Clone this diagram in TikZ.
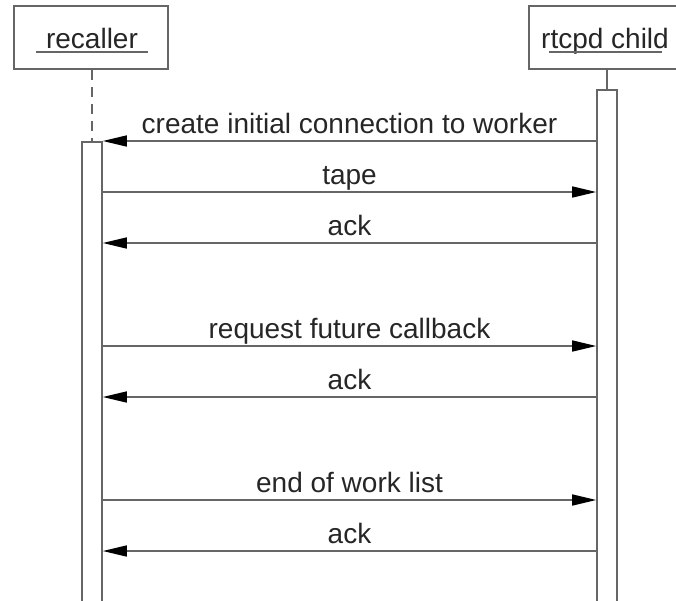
\documentclass[tikz,border=0pt]{standalone}
\usepackage{fontspec}
\setmainfont{Liberation Sans}
\usetikzlibrary{arrows.meta}
\definecolor{linegray}{gray}{0.4}
\begin{document}
\begin{tikzpicture}[x=1pt,y=-1pt,
  objbox/.style={draw=linegray,line width=1.6pt,fill=white,inner sep=0pt},
  actbar/.style={draw=linegray,line width=1.6pt,fill=white,anchor=north},
  msg/.style={draw=linegray,line width=1.6pt,-{Triangle[length=24pt,width=11pt,fill=black,color=black]}},
  lbl/.style={font=\fontsize{28}{32}\selectfont,text={black!85},inner sep=0pt},
  life/.style={draw=linegray,line width=1.8pt}]
\useasboundingbox (0,0) rectangle (676,600);
% participants
\node[objbox,minimum width=154pt,minimum height=63pt] (rec) at (91,37.5) {};
\node[lbl,anchor=base] (rect) at (92,48) {recaller};
\draw[linegray,line width=1.6pt] (36,52) -- (148,52);
\node[objbox,minimum width=152pt,minimum height=63pt] (rtc) at (605,37.5) {};
\node[lbl,anchor=base] (rtct) at (605,48) {rtcpd child};
\draw[linegray,line width=1.6pt] (549,52) -- (662,52);
% activation bars
\node[actbar,minimum width=20pt,minimum height=470pt] (ra) at (92,141) {};
\node[actbar,minimum width=20pt,minimum height=520pt] (ca) at (607,89) {};
% lifelines
\draw[life,dash pattern=on 10pt off 7pt] (rec.south -| ra.north) -- (ra.north);
\draw[life] (rtc.south -| ca.north) -- (ca.north);
% message rows
\foreach \n/\y in {m1/141,m2/192,m3/243,m4/346,m5/397,m6/500,m7/551}{
  \coordinate (\n L) at (ra.east |- 0,\y);
  \coordinate (\n R) at (ca.west |- 0,\y);
}
\tikzset{msglbl/.style={lbl,anchor=base,yshift=7.5pt}}
\draw[msg] (m1R) -- node[msglbl] {create initial connection to worker} (m1L);
\draw[msg] (m2L) -- node[msglbl] {tape} (m2R);
\draw[msg] (m3R) -- node[msglbl] {ack} (m3L);
\draw[msg] (m4L) -- node[msglbl] {request future callback} (m4R);
\draw[msg] (m5R) -- node[msglbl] {ack} (m5L);
\draw[msg] (m6L) -- node[msglbl] {end of work list} (m6R);
\draw[msg] (m7R) -- node[msglbl] {ack} (m7L);
\end{tikzpicture}
\end{document}
